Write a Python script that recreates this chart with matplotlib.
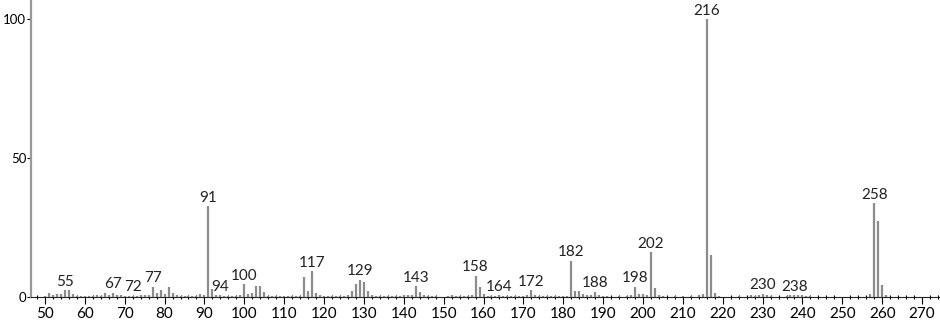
import matplotlib
matplotlib.use("Agg")
import matplotlib.pyplot as plt
from matplotlib.ticker import MultipleLocator

plt.rcParams['font.family'] = ['Lato', 'DejaVu Sans']

# m/z and relative intensity (%)
mz = [50, 51, 52, 53, 54, 55, 56, 57, 58, 59, 60, 61, 62, 63, 64, 65, 66, 67, 68, 69,
      70, 71, 72, 73, 74, 75, 76, 77, 78, 79, 80, 81, 82, 83, 84, 85, 86, 87, 88, 89,
      90, 91, 92, 93, 94, 95, 96, 97, 98, 99, 100, 101, 102, 103, 104, 105, 106, 107, 108, 109,
      110, 111, 112, 113, 114, 115, 116, 117, 118, 119, 120, 121, 122, 123, 124, 125, 126, 127, 128, 129,
      130, 131, 132, 133, 134, 135, 136, 137, 138, 139, 140, 141, 142, 143, 144, 145, 146, 147, 148,
      151, 152, 153, 154, 155, 156, 157, 158, 159, 160, 161, 162, 163, 164, 165, 166, 167, 168, 169,
      170, 171, 172, 173, 174, 175, 176, 177, 178, 179, 180, 181, 182, 183, 184, 185, 186, 187, 188, 189,
      190, 191, 194, 196, 197, 198, 199, 200, 201, 202, 203, 204, 205, 208, 210, 212, 214, 215, 216, 217,
      218, 219, 224, 227, 228, 229, 230, 231, 232, 236, 237, 238, 239, 240, 241, 242,
      257, 258, 259, 260, 261]
intensity = [0.5, 1.5, 0.8, 1.0, 1.0, 2.5, 2.5, 1.0, 0.5, 0.4, 0.3, 0.4, 0.5, 0.8, 0.5, 1.5, 0.8, 1.5, 0.8, 0.6,
             0.4, 0.5, 0.5, 0.4, 0.6, 0.6, 0.8, 3.7, 1.5, 2.6, 1.2, 3.7, 1.3, 0.6, 0.4, 0.4, 0.3, 0.4, 0.4, 1.0,
             0.6, 32.7, 2.9, 0.8, 0.6, 0.5, 0.3, 0.4, 0.4, 0.8, 4.6, 1.0, 1.6, 3.8, 3.8, 1.8, 0.5, 0.5, 0.4, 0.4,
             0.4, 0.4, 0.4, 0.5, 0.5, 7.0, 2.0, 9.3, 1.5, 0.6, 0.3, 0.4, 0.4, 0.4, 0.4, 0.5, 0.8, 2.0, 4.5, 6.2,
             5.5, 2.0, 0.8, 0.4, 0.3, 0.4, 0.4, 0.4, 0.3, 0.5, 0.6, 0.8, 0.8, 3.8, 1.8, 0.7, 0.5, 0.4, 0.3,
             0.4, 0.6, 0.5, 0.5, 0.5, 0.5, 0.8, 7.7, 3.7, 0.9, 0.4, 0.3, 0.4, 0.6, 0.5, 0.4, 0.3, 0.5, 0.4,
             0.5, 0.6, 2.5, 0.7, 0.4, 0.4, 0.4, 0.3, 0.4, 0.4, 0.3, 0.5, 13.0, 2.0, 2.0, 1.0, 0.8, 0.6, 1.9, 0.8,
             0.4, 0.3, 0.3, 0.4, 0.6, 3.7, 1.0, 1.0, 0.6, 16.2, 3.2, 0.8, 0.3, 0.3, 0.4, 0.3, 0.6, 1.0, 100.0, 15.2,
             1.5, 0.3, 0.3, 0.6, 0.5, 0.6, 1.2, 0.8, 0.5, 0.4, 0.6, 0.6, 0.8, 0.6, 0.5, 0.3,
             1.2, 33.8, 27.3, 4.3, 0.6]

labeled = [55, 67, 72, 77, 91, 94, 100, 117, 129, 143, 158, 164, 172, 182, 188, 198, 202, 216, 230, 238, 258]

fig = plt.figure(figsize=(9.4, 3.2), dpi=100)
ax = fig.add_axes([0.033, 0.072, 0.967, 0.928])

ax.vlines(mz, 0, intensity, colors='#8c8c8c', linewidth=1.6)

lookup = dict(zip(mz, intensity))
for m in labeled:
    ax.annotate(str(m), (m, lookup[m]), xytext=(0, 1), textcoords='offset points',
                ha='center', va='bottom', fontsize=11, color='#222222')

ax.set_xlim(46.5, 274.5)
ax.set_ylim(0, 106.8)

ax.xaxis.set_major_locator(MultipleLocator(10))
ax.xaxis.set_minor_locator(MultipleLocator(2))
ax.set_yticks([0, 50, 100])

ax.tick_params(axis='x', which='major', direction='out', length=5, width=0.8, labelsize=11, pad=2)
ax.tick_params(axis='x', which='minor', direction='inout', length=3, width=0.8)
ax.tick_params(axis='y', direction='out', length=3, width=0.8, labelsize=9.5, pad=0.5)

for s in ['top', 'right']:
    ax.spines[s].set_visible(False)
ax.spines['left'].set_color('#999999')
ax.spines['left'].set_linewidth(1.6)
ax.spines['bottom'].set_color('#222222')
ax.spines['bottom'].set_linewidth(0.8)

fig.savefig('out.png', dpi=100)
